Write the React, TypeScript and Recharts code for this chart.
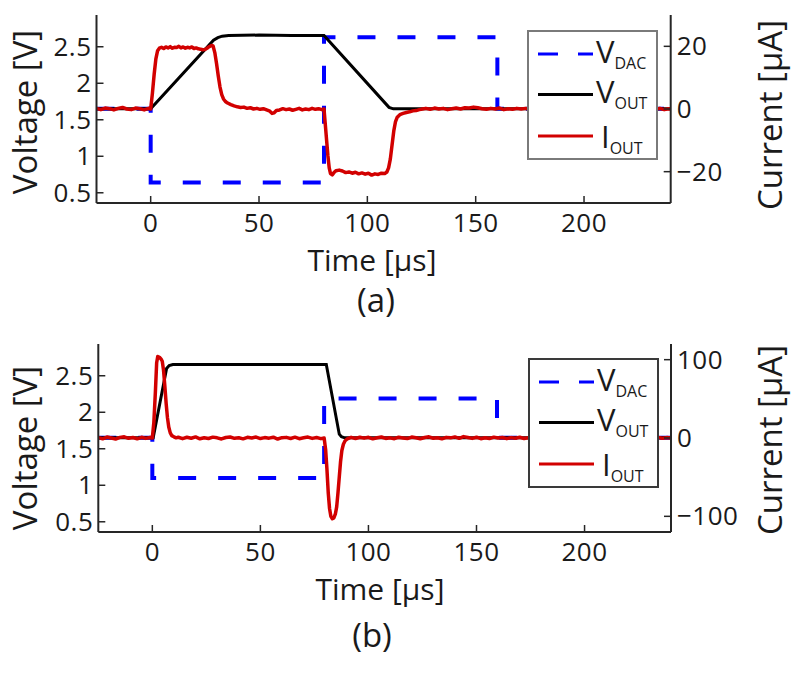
import React from 'react';
import { LineChart, Line, XAxis, YAxis, Legend } from 'recharts';

const FONT = '"Open Sans", "DejaVu Sans", sans-serif';
const INK = '#1a1a1a';
const AXIS = '#262626';
const BLUE = '#0000ff';
const RED = '#d20000';

const TIME_DOMAIN = [-25, 240];
const TIME_TICKS = [0, 50, 100, 150, 200];
const VOLT_DOMAIN = [0.36, 2.935];
const VOLT_TICKS = [0.5, 1, 1.5, 2, 2.5];

const CUR_DOMAIN_A = [-30, 30];
const CUR_TICKS_A = [-20, 0, 20];
const CUR_DOMAIN_B = [-120, 120];
const CUR_TICKS_B = [-100, 0, 100];

const SERIES = ['V_DAC', 'V_OUT', 'I_OUT'];

type Pt = [number, number];

// panel (a): [time µs, volts]
const VDAC_A: Pt[] = [[-25, 1.65], [0, 1.65], [0, 0.64], [80, 0.64], [80, 2.63], [160, 2.63], [160, 1.65], [240, 1.65]];
const VOUT_A: Pt[] = [[-25, 1.65], [0, 1.65], [29, 2.59], [31, 2.625], [33, 2.645], [36, 2.655], [50, 2.66], [65, 2.655], [80, 2.655], [110, 1.67], [112, 1.65], [240, 1.65]];
// panel (a): [time µs, µA]
const IOUT_A: Pt[] = [
  [-25, 0.2], [-23, -0.2], [-21, 0.3], [-19, 0.1], [-17, -0.3], [-15, 0.2], [-13, 0.5], [-11, 0], [-9, -0.2], [-7, 0.3], [-5, 0.1], [-3, -0.3], [-1, 0.2], [0, 0],
  [0.8, 5], [1.6, 11], [2.4, 16], [3.2, 18.6], [4, 19.4], [5, 19.7], [6, 19.3], [7, 19.8], [8, 19.5], [9, 19.9], [10, 19.4], [11, 19.7], [12, 19.6], [13, 20],
  [14, 19.5], [15, 19.8], [16, 19.4], [17, 19.7], [18, 19.5], [19, 19.8], [20, 19.3], [21, 19.5], [22, 19.2], [23, 19.1], [24, 18.9], [25, 19], [26, 19.4],
  [27, 19.9], [28, 20.3], [28.8, 20.1], [29.6, 18], [30.4, 14.5], [31.2, 10.5], [32, 7], [32.8, 4.6], [33.6, 3.2], [34.5, 2.4], [35.5, 1.9], [37, 1.4],
  [38.5, 1], [40, 0.7], [41.5, 0.5], [43, 0.6], [44.5, 0.2], [46, 0.4], [47.5, 0], [49, 0.2], [50.5, -0.1], [52, 0.1], [53.5, -0.3], [55, -0.7], [56, -1.4],
  [57, -1.2], [58, -0.5], [59.5, -0.3], [61, 0.1], [62.5, -0.2], [64, 0], [65.5, -0.4], [67, -0.1], [68.5, 0.2], [70, -0.3], [71.5, 0], [73, -0.2], [74.5, 0.2],
  [76, -0.1], [77.5, 0.1], [79, -0.2], [80, 0],
  [80.6, -5], [81.2, -10], [81.8, -15], [82.4, -18.8], [83, -20.6], [83.8, -21], [84.6, -20.3], [85.5, -19.7], [87, -19.5], [88.5, -19.8], [90, -20.3],
  [91.5, -20.1], [93, -20.5], [94.5, -20.2], [96, -20.7], [97.5, -20.4], [99, -20.8], [100.5, -20.5], [102, -21.1], [103.5, -20.7], [105, -20.9], [106.5, -20.5],
  [108, -20.6], [109, -20.1], [109.8, -18.8], [110.6, -16], [111.4, -11.5], [112.2, -7], [113, -4], [113.8, -2.6], [115, -1.8], [116.5, -1.4], [118, -1.1],
  [119.5, -0.9], [121, -0.6], [122.5, -0.5], [124, -0.2], [125.5, 0],
  [127, 0.2], [129, -0.1], [131, 0.3], [133, 0], [135, 0.2], [137, -0.2], [139, 0.1], [141, 0.3], [143, 0], [145, 0.4], [147, 0.3], [149, 0.6], [151, 0.4],
  [153, 0.1], [155, -0.1], [157, 0.2], [159, 0], [161, 0.3], [163, -0.2], [165, 0.1], [167, -0.1], [169, 0.2], [171, 0], [173, 0.2], [175, -0.1], [177, 0.2],
  [179, 0], [181, -0.2], [183, 0.1], [185, 0.3], [187, -0.1], [189, 0.1], [191, -0.2], [193, 0.2], [195, 0], [197, 0.1], [199, -0.2], [201, 0.2], [203, 0],
  [205, -0.1], [207, 0.2], [209, 0], [211, 0.3], [213, -0.1], [215, 0.1], [217, -0.2], [219, 0.2], [221, 0], [223, 0.1], [225, -0.2], [227, 0.2], [229, 0],
  [231, 0.1], [233, -0.1], [235, 0.2], [237, -0.2], [239, 0.1], [240, 0],
];

// panel (b)
const VDAC_B: Pt[] = [[-25, 1.65], [0, 1.65], [0, 1.1], [79.5, 1.1], [79.5, 2.19], [159.5, 2.19], [159.5, 1.65], [240, 1.65]];
const VOUT_B: Pt[] = [[-25, 1.65], [0.4, 1.65], [6.6, 2.6], [7.8, 2.64], [9.5, 2.655], [80.5, 2.655], [86.5, 1.7], [87.5, 1.665], [89, 1.65], [240, 1.65]];
const IOUT_B: Pt[] = [
  [-25, 0.5], [-23, -1], [-21, 1.2], [-19, 0], [-17, -1.3], [-15, 0.8], [-13, 1.5], [-11, -0.4], [-9, 0.6], [-7, -1], [-5, 0.9], [-3, -0.5], [-1, 0.7], [0, 0],
  [0.7, 20], [1.4, 58], [2, 96], [2.5, 104], [3.3, 103], [4, 101], [4.6, 98], [5.2, 86], [5.8, 66], [6.4, 44], [7, 26], [7.6, 14], [8.3, 6.5], [9, 3],
  [10, 1.5], [11, 0.2], [12, 1], [14, -0.8], [16, 0.9], [18, -0.3], [20, 1.4], [22, -1], [24, 0.4], [26, -0.6], [28, 1.1], [30, 0.2], [32, -1.2], [34, 0.6],
  [36, 1.3], [38, -0.4], [40, 0.3], [42, -1.1], [44, 0.9], [46, 0], [48, 1.2], [50, -0.7], [52, 0.5], [54, -0.2], [56, 1], [58, -1.3], [60, 0.4], [62, 0.8],
  [64, -0.6], [66, 1.1], [68, -0.9], [70, 0.3], [72, 1.2], [74, -0.5], [76, 0.6], [78, -0.8], [79.5, 0],
  [80.2, -15], [80.8, -40], [81.4, -70], [82, -90], [82.6, -100], [83.3, -103], [84, -102], [84.7, -97], [85.3, -88], [85.9, -70], [86.5, -50], [87.1, -30],
  [87.7, -16], [88.4, -8], [89.2, -3.5], [90.2, -1.2],
  [92, 0.8], [94, -0.6], [96, 1], [98, -0.2], [100, 0.9], [102, -1.1], [104, 0.4], [106, 1.3], [108, -0.5], [110, 0.2], [112, -0.9], [114, 1], [116, 0.1],
  [118, -0.7], [120, 1.2], [122, 0.3], [124, -1], [126, 0.6], [128, 1.5], [130, -0.3], [132, 0.4], [134, -1.1], [136, 0.8], [138, 0.2], [140, 1.4], [142, -0.4],
  [144, 1.8], [146, 0.6], [148, -0.5], [150, 1], [152, -0.9], [154, 0.3], [156, -0.6], [158, 1.1], [160, 0], [162, 0.7], [164, -0.8], [166, 0.5], [168, -0.3],
  [170, 0.9], [172, -0.6], [174, 0.4], [176, -0.2], [178, 0.8], [180, -0.5], [182, 0.3], [184, -0.9], [186, 0.6], [188, 0], [190, 0.7], [192, -0.4], [194, 0.2],
  [196, -0.7], [198, 0.5], [200, 0.1], [202, -0.6], [204, 0.8], [206, -0.2], [208, 0.4], [210, -0.8], [212, 0.6], [214, 0], [216, 0.9], [218, -0.5], [220, 0.3],
  [222, -0.4], [224, 0.7], [226, -0.1], [228, 0.5], [230, -0.7], [232, 0.2], [234, 0.8], [236, -0.3], [238, 0.5], [240, 0],
];

const rows = (pts: Pt[]) => pts.map(([t, y]) => ({ t, y }));
const minus = (v: number) => (v < 0 ? '\u2212' + Math.abs(v) : String(v));

const TimeTick = (p: any) => (
  <g>
    <line x1={p.x} y1={p.y} x2={p.x} y2={p.y - 7} stroke={AXIS} strokeWidth={1.5} />
    <text x={p.x} y={p.y + 29} textAnchor="middle" fontSize={26} letterSpacing={0.5} fontFamily={FONT} fill={INK}>{p.payload.value}</text>
  </g>
);

const VoltTick = (p: any) => (
  <g>
    <line x1={p.x} y1={p.y} x2={p.x + 7} y2={p.y} stroke={AXIS} strokeWidth={1.5} />
    <text x={p.x - 5} y={p.y + 9} textAnchor="end" fontSize={26} letterSpacing={0.5} fontFamily={FONT} fill={INK}>{p.payload.value}</text>
  </g>
);

const CurTick = (p: any) => (
  <g>
    <line x1={p.x} y1={p.y} x2={p.x - 7} y2={p.y} stroke={AXIS} strokeWidth={1.5} />
    <text x={p.x + 6} y={p.y + 9} textAnchor="start" fontSize={26} letterSpacing={0.5} fontFamily={FONT} fill={INK}>{minus(p.payload.value)}</text>
  </g>
);

const ROW_Y = [24, 64.5, 106];
const ROW_BASE = [8.8, 8.7, 12];
const ROW_TEXT_X = [69, 69, 74];

const LegendBox = ({ payload, border }: any) => {
  const items = [...(payload || [])].sort((a: any, b: any) => SERIES.indexOf(a.value) - SERIES.indexOf(b.value));
  return (
    <div style={{ width: 131, height: 130, boxSizing: 'border-box', border: `2px solid ${border}`, background: '#fff' }}>
      <svg width={127} height={126} style={{ display: 'block', overflow: 'visible' }}>
        {items.map((e: any, k: number) => {
          const [main, sub] = String(e.value).split('_');
          const cy = ROW_Y[k] - 2;
          return (
            <g key={e.value}>
              <line x1={9} y1={cy} x2={64} y2={cy} stroke={e.color} strokeWidth={3}
                strokeDasharray={e.payload && e.payload.strokeDasharray ? '20 20' : undefined} />
              <text x={ROW_TEXT_X[k] - 2} y={cy + ROW_BASE[k]} fontFamily={FONT} fill={INK}>
                <tspan fontSize={31}>{main}</tspan>
                <tspan fontSize={16} dy={6}>{sub}</tspan>
              </text>
            </g>
          );
        })}
      </svg>
    </div>
  );
};

const Panel = (props: any) => {
  const { top, height, margin, vdac, vout, iout, curDomain, curTicks, legend, t } = props;
  const axisLine = { stroke: AXIS, strokeWidth: 2 };
  return (
    <div style={{ position: 'absolute', left: 0, top }}>
      <LineChart width={800} height={height} margin={margin}>
        <XAxis xAxisId="top" orientation="top" type="number" dataKey="t" domain={TIME_DOMAIN} allowDataOverflow
          height={0} tick={false} tickLine={false} axisLine={axisLine} />
        <XAxis type="number" dataKey="t" domain={TIME_DOMAIN} ticks={TIME_TICKS} allowDataOverflow height={30}
          tickSize={0} tickMargin={0} tickLine={false} tick={TimeTick} axisLine={axisLine}
          label={() => (
            <g>
              <text x={t.timeX} y={t.timeBase} textAnchor="middle" fontSize={30} fontFamily={FONT} fill={INK}>Time [µs]</text>
              <text x={t.capX} y={t.capBase} textAnchor="middle" fontSize={33} fontFamily={FONT} fill={INK}>{t.caption}</text>
            </g>
          )} />
        <YAxis yAxisId="v" type="number" domain={VOLT_DOMAIN} ticks={VOLT_TICKS} allowDataOverflow width={60}
          tickSize={0} tickMargin={0} tickLine={false} tick={VoltTick} axisLine={axisLine}
          label={() => (
            <text x={37} y={t.voltY} transform={`rotate(-90 37 ${t.voltY})`} textAnchor="middle" fontSize={33} fontFamily={FONT} fill={INK}>Voltage [V]</text>
          )} />
        <YAxis yAxisId="i" orientation="right" type="number" domain={curDomain} ticks={curTicks} allowDataOverflow width={60}
          tickSize={0} tickMargin={0} tickLine={false} tick={CurTick} axisLine={axisLine}
          label={() => (
            <text x={782} y={t.curY} transform={`rotate(-90 782 ${t.curY})`} textAnchor="middle" fontSize={33} fontFamily={FONT} fill={INK}>Current [µA]</text>
          )} />
        <Legend layout="vertical" align="center" verticalAlign="middle"
          wrapperStyle={{ left: legend.left, top: legend.top, width: 131, height: 130 }}
          content={(p: any) => <LegendBox payload={p.payload} border={legend.border} />} />
        <Line yAxisId="v" data={rows(vdac)} dataKey="y" name="V_DAC" type="linear" stroke={BLUE} strokeWidth={4}
          strokeDasharray="18 22" dot={false} activeDot={false} isAnimationActive={false} />
        <Line yAxisId="v" data={rows(vout)} dataKey="y" name="V_OUT" type="linear" stroke="#000" strokeWidth={3}
          dot={false} activeDot={false} isAnimationActive={false} />
        <Line yAxisId="i" data={rows(iout)} dataKey="y" name="I_OUT" type="linear" stroke={RED} strokeWidth={3.5}
          strokeLinejoin="round" dot={false} activeDot={false} isAnimationActive={false} />
      </LineChart>
    </div>
  );
};

export default function App() {
  return (
    <div style={{ position: 'absolute', left: 0, top: 0, width: 800, height: 674, background: '#fff' }}>
      <Panel top={0} height={330} margin={{ top: 15, right: 69.3, bottom: 97, left: 36.5 }}
        vdac={VDAC_A} vout={VOUT_A} iout={IOUT_A} curDomain={CUR_DOMAIN_A} curTicks={CUR_TICKS_A}
        legend={{ left: 527, top: 30, border: '#7a7a7a' }}
        t={{ timeX: 372, timeBase: 271, capX: 376, capBase: 312, caption: '(a)', voltY: 112, curY: 115 }} />
      <Panel top={330} height={344} margin={{ top: 14, right: 69, bottom: 112, left: 38.3 }}
        vdac={VDAC_B} vout={VOUT_B} iout={IOUT_B} curDomain={CUR_DOMAIN_B} curTicks={CUR_TICKS_B}
        legend={{ left: 528, top: 28, border: '#3a3a3a' }}
        t={{ timeX: 380, timeBase: 270, capX: 372, capBase: 317, caption: '(b)', voltY: 118, curY: 110 }} />
    </div>
  );
}
